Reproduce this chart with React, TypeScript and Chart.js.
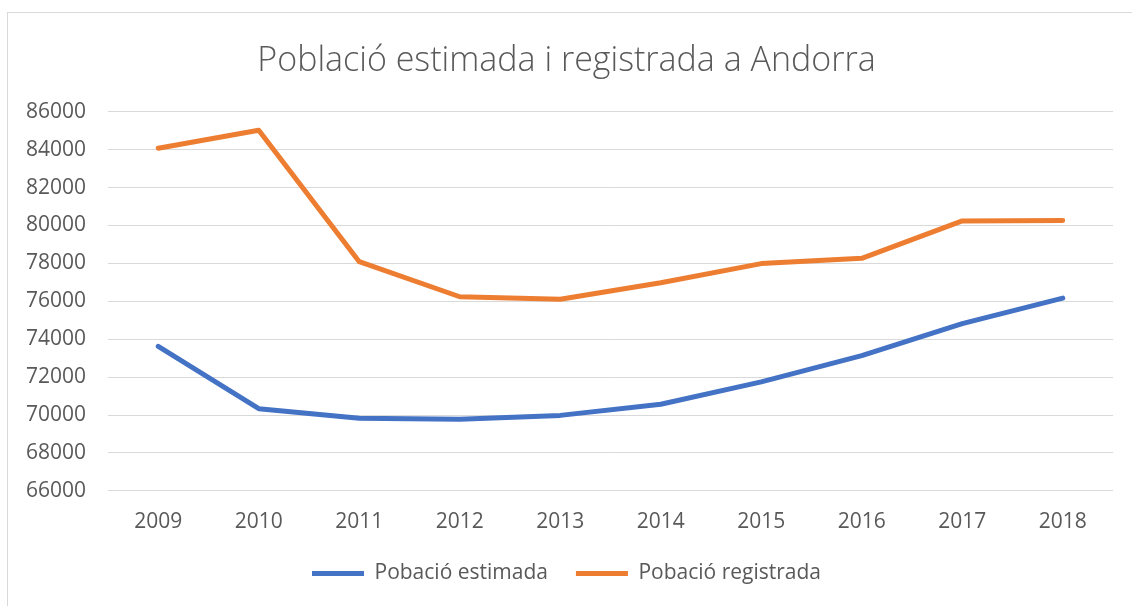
import React, { useEffect, useRef } from "react";
import { Chart, registerables } from "chart.js";

Chart.register(...registerables);

const years = ["2009", "2010", "2011", "2012", "2013", "2014", "2015", "2016", "2017", "2018"];
const estimada = [73620, 70330, 69830, 69770, 69980, 70570, 71750, 73130, 74820, 76170];
const registrada = [84080, 85030, 78090, 76240, 76110, 76980, 77990, 78270, 80240, 80270];
const labelEstimada = "Pobació estimada";
const labelRegistrada = "Pobació registrada";
const titleText = "Població estimada i registrada a Andorra";

const FONT = "'Open Sans', 'Noto Sans', sans-serif";
const GREY = "#595959";

export default function App() {
  const ref = useRef<HTMLCanvasElement | null>(null);
  useEffect(() => {
    if (!ref.current) return;
    const chart = new Chart(ref.current, {
      type: "line",
      data: {
        labels: years,
        datasets: [
          {
            label: labelEstimada,
            data: estimada,
            borderColor: "#4472C4",
            backgroundColor: "#4472C4",
            borderWidth: 5,
            pointRadius: 0,
            borderCapStyle: "round",
            borderJoinStyle: "round",
            tension: 0,
          },
          {
            label: labelRegistrada,
            data: registrada,
            borderColor: "#ED7D31",
            backgroundColor: "#ED7D31",
            borderWidth: 5,
            pointRadius: 0,
            borderCapStyle: "round",
            borderJoinStyle: "round",
            tension: 0,
          },
        ],
      },
      options: {
        animation: false,
        responsive: false,
        layout: { padding: { left: 20, right: 19, top: 0, bottom: 12 } },
        plugins: {
          title: {
            display: true,
            text: titleText,
            color: GREY,
            font: { family: FONT, size: 34, weight: "300" },
            padding: { top: 41, bottom: 30 },
          },
          legend: {
            display: true,
            position: "bottom",
            labels: {
              usePointStyle: true,
              pointStyle: "line",
              pointStyleWidth: 52,
              color: GREY,
              font: { family: FONT, size: 21 },
              padding: 28,
            },
          },
          tooltip: { enabled: false },
        },
        scales: {
          x: {
            offset: true,
            grid: { display: false, drawTicks: true, tickLength: 19 },
            border: { display: false },
            ticks: { color: GREY, font: { family: FONT, size: 21 }, padding: 0 },
          },
          y: {
            min: 66000,
            max: 86000,
            ticks: {
              stepSize: 2000,
              color: GREY,
              font: { family: FONT, size: 21 },
              padding: 22,
              callback: (v: any) => String(v),
            },
            grid: { color: "#d9d9d9", lineWidth: 1, drawTicks: false },
            border: { display: false },
            afterFit: (s: any) => {
              s.width = 88;
            },
          },
        },
      },
    });
    return () => chart.destroy();
  }, []);
  return (
    <div style={{ position: "fixed", left: 0, top: 0, width: 1132, height: 606, background: "#fff" }}>
      <div
        style={{
          position: "absolute",
          left: 7,
          top: 12,
          width: 1140,
          height: 610,
          borderLeft: "1px solid #d9d9d9",
          borderTop: "1px solid #d9d9d9",
        }}
      />
      <canvas ref={ref} width={1132} height={606} style={{ position: "absolute", left: 0, top: 0 }} />
    </div>
  );
}
